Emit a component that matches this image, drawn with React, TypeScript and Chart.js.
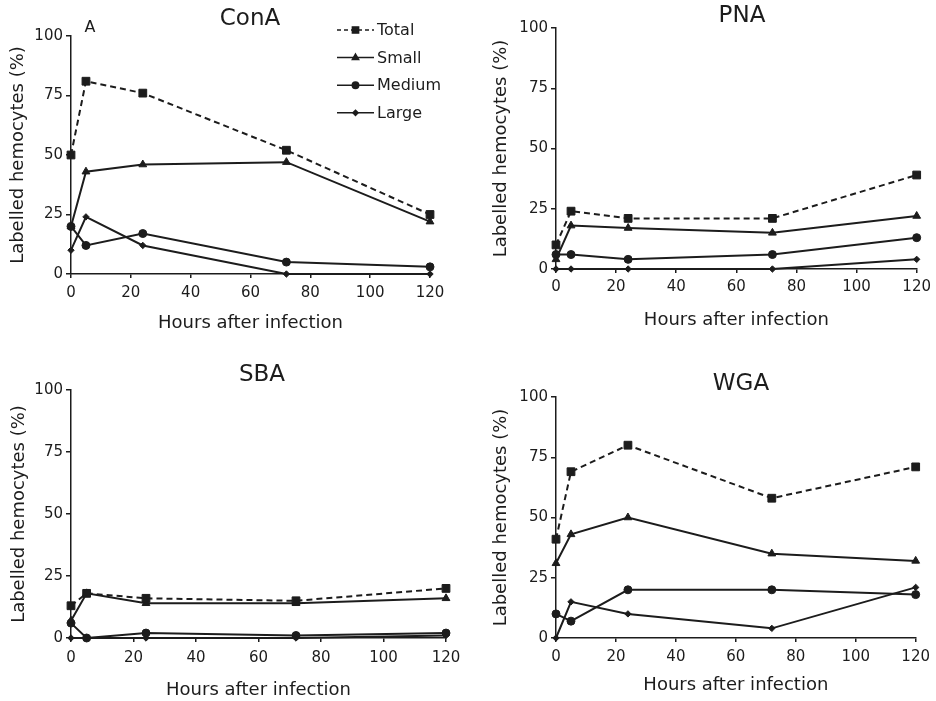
import React, { useEffect, useRef } from 'react';
import { Chart, registerables } from 'chart.js';
import { drawPoint } from 'chart.js/helpers';

Chart.register(...registerables);

const FONT = "'DejaVu Sans', 'Liberation Sans', sans-serif";
const INK = '#1c1c1c';

// ---------- data ----------
const hours = [0, 5, 24, 72, 120];
const seriesNames = ['Total', 'Small', 'Medium', 'Large'];
const panelTitles = ['ConA', 'PNA', 'SBA', 'WGA'];
const xAxisTitle = 'Hours after infection';
const yAxisTitle = 'Labelled hemocytes (%)';
const panelLetter = 'A';

const conaTotal = [50, 81, 76, 52, 25];
const conaSmall = [20, 43, 46, 47, 22];
const conaMedium = [20, 12, 17, 5, 3];
const conaLarge = [10, 24, 12, 0, 0];

const pnaTotal = [10, 24, 21, 21, 39];
const pnaSmall = [4, 18, 17, 15, 22];
const pnaMedium = [6, 6, 4, 6, 13];
const pnaLarge = [0, 0, 0, 0, 4];

const sbaTotal = [13, 18, 16, 15, 20];
const sbaSmall = [7, 18, 14, 14, 16];
const sbaMedium = [6, 0, 2, 1, 2];
const sbaLarge = [0, 0, 0, 0, 1];

const wgaTotal = [41, 69, 80, 58, 71];
const wgaSmall = [31, 43, 50, 35, 32];
const wgaMedium = [10, 7, 20, 20, 18];
const wgaLarge = [0, 15, 10, 4, 21];

const panelData = [
  [conaTotal, conaSmall, conaMedium, conaLarge],
  [pnaTotal, pnaSmall, pnaMedium, pnaLarge],
  [sbaTotal, sbaSmall, sbaMedium, sbaLarge],
  [wgaTotal, wgaSmall, wgaMedium, wgaLarge],
];

// ---------- styles ----------
const seriesStyle = [
  { pointStyle: 'rect', radius: 5.5, dash: [6, 4], legendDash: [4, 3] },
  { pointStyle: 'triangle', radius: 4.5, dash: [], legendDash: [] },
  { pointStyle: 'circle', radius: 4, dash: [], legendDash: [] },
  { pointStyle: 'rectRot', radius: 3.2, dash: [], legendDash: [] },
];

// layout per panel (canvas origin/size, plot area edges in canvas coords)
const panelLayout = [
  { ox: 0, oy: 0, w: 468, h: 350, padRight: 38, padTop: 36, yW: 71, xH: 76, yTitlePad: 8, xTitlePad: 16, xTickPad: 6, titleX: 250, titleY: 19, letter: true, legend: true },
  { ox: 468, oy: 0, w: 468, h: 350, padRight: 17, padTop: 28, yW: 88, xH: 81, yTitlePad: 23, xTitlePad: 19, xTickPad: 5, titleX: 274, titleY: 16, letter: false, legend: false },
  { ox: 0, oy: 350, w: 468, h: 351, padRight: 22, padTop: 40, yW: 71, xH: 63, yTitlePad: 9, xTitlePad: 0, xTickPad: 7, titleX: 262, titleY: 25, letter: false, legend: false },
  { ox: 468, oy: 350, w: 468, h: 351, padRight: 17, padTop: 47, yW: 88, xH: 63, yTitlePad: 23, xTitlePad: 5, xTickPad: 6, titleX: 273, titleY: 34, letter: false, legend: false },
];

const panelDecor = {
  id: 'panelDecor',
  afterDraw(chart: any, _args: any, opts: any) {
    const ctx = chart.ctx;
    ctx.save();
    ctx.fillStyle = INK;
    ctx.strokeStyle = INK;
    ctx.textAlign = 'center';
    ctx.textBaseline = 'middle';
    ctx.font = `23px ${FONT}`;
    ctx.fillText(opts.title, opts.titleX, opts.titleY);
    if (opts.letter) {
      ctx.font = `16px ${FONT}`;
      ctx.fillText(opts.letter, 90, 28);
    }
    if (opts.legend) {
      ctx.font = `16px ${FONT}`;
      ctx.textAlign = 'left';
      const x0 = 337, x1 = 374, tx = 377, y0 = 30, gap = 27.6;
      chart.data.datasets.forEach((ds: any, i: number) => {
        const y = y0 + i * gap;
        const st = seriesStyle[i];
        ctx.lineWidth = 1.5;
        ctx.setLineDash(st.legendDash);
        ctx.beginPath();
        ctx.moveTo(x0, y);
        ctx.lineTo(x1, y);
        ctx.stroke();
        ctx.setLineDash([]);
        ctx.fillStyle = INK;
        drawPoint(ctx, { pointStyle: st.pointStyle, radius: st.radius * 0.8, rotation: 0, borderWidth: 1 } as any, (x0 + x1) / 2, y);
        ctx.fillText(ds.label, tx, y + 1);
      });
    }
    ctx.restore();
  },
};

function Panel({ idx }: { idx: number }) {
  const ref = useRef<HTMLCanvasElement | null>(null);
  const p = panelLayout[idx];
  useEffect(() => {
    if (!ref.current) return;
    const datasets = seriesNames.map((name, i) => ({
      label: name,
      data: hours.map((h, j) => ({ x: h, y: panelData[idx][i][j] })),
      borderColor: INK,
      backgroundColor: INK,
      borderWidth: 2,
      borderDash: seriesStyle[i].dash,
      pointStyle: seriesStyle[i].pointStyle,
      pointRadius: seriesStyle[i].radius,
      pointBorderWidth: 1,
      pointBackgroundColor: INK,
      pointBorderColor: INK,
      tension: 0,
      clip: false,
    }));
    const chart = new Chart(ref.current, {
      type: 'line',
      data: { datasets } as any,
      plugins: [panelDecor as any],
      options: {
        animation: false,
        responsive: false,
        devicePixelRatio: 1,
        layout: { padding: { left: 0, right: p.padRight, top: p.padTop, bottom: 0 } },
        plugins: {
          legend: { display: false },
          tooltip: { enabled: false },
          title: { display: false },
          panelDecor: {
            title: panelTitles[idx],
            titleX: p.titleX,
            titleY: p.titleY,
            letter: p.letter ? panelLetter : '',
            legend: p.legend,
          },
        } as any,
        scales: {
          x: {
            type: 'linear',
            min: 0,
            max: 120,
            ticks: { stepSize: 20, padding: p.xTickPad, font: { size: 15, family: FONT }, color: INK, maxRotation: 0, autoSkip: false },
            grid: { drawOnChartArea: false, drawTicks: true, tickLength: 4, color: INK, lineWidth: 1.5 },
            border: { display: true, color: INK, width: 1.5 },
            title: { display: true, text: xAxisTitle, font: { size: 18, family: FONT }, color: INK, padding: { top: 0, bottom: p.xTitlePad } },
            afterFit: (s: any) => { s.height = p.xH; },
          },
          y: {
            type: 'linear',
            min: 0,
            max: 100,
            ticks: { stepSize: 25, padding: 3, font: { size: 15, family: FONT }, color: INK },
            grid: { drawOnChartArea: false, drawTicks: true, tickLength: 5, color: INK, lineWidth: 1.5 },
            border: { display: true, color: INK, width: 1.5 },
            title: { display: true, text: yAxisTitle, font: { size: 18, family: FONT }, color: INK, padding: { top: p.yTitlePad, bottom: 0 } },
            afterFit: (s: any) => { s.width = p.yW; },
          },
        } as any,
      },
    });
    return () => chart.destroy();
  }, [idx]);
  return (
    <div style={{ position: 'absolute', left: p.ox, top: p.oy, width: p.w, height: p.h }}>
      <canvas ref={ref} width={p.w} height={p.h} style={{ display: 'block', width: p.w, height: p.h }} />
    </div>
  );
}

export default function App() {
  useEffect(() => {
    Chart.defaults.font.family = FONT;
  }, []);
  Chart.defaults.font.family = FONT;
  return (
    <div style={{ position: 'fixed', left: 0, top: 0, width: 936, height: 701, background: '#ffffff', overflow: 'hidden' }}>
      {panelLayout.map((_, i) => (
        <Panel key={i} idx={i} />
      ))}
    </div>
  );
}
